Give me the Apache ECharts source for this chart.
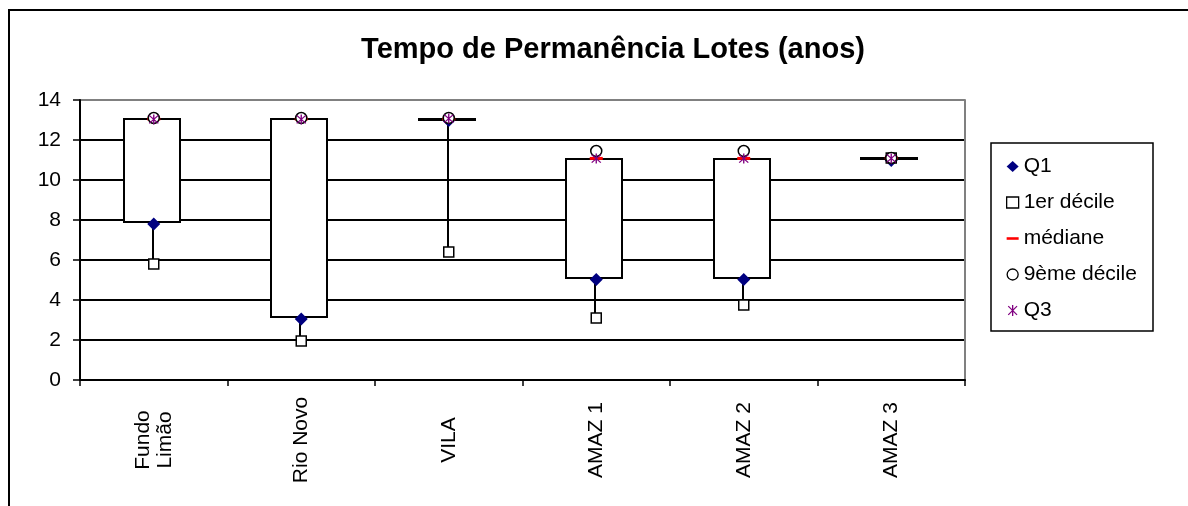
<!DOCTYPE html>
<html>
<head>
<meta charset="utf-8">
<script src="https://cdn.jsdelivr.net/npm/echarts@6/dist/echarts.min.js"></script>
<style>
  html, body { margin: 0; padding: 0; background: #fff; }
  #chart { width: 1188px; height: 506px; }
</style>
</head>
<body>
<div id="chart"></div>
<script>
// valeurs
var categories = ['Fundo\nLimão', 'Rio Novo', 'VILA', 'AMAZ 1', 'AMAZ 2', 'AMAZ 3'];
var q1       = [7.9, 3.15, 13.07, 5.12, 5.12, 11.08];
var decile1  = [5.8, 1.95, 6.4, 3.1, 3.75, 11.1];
var mediane  = [13.05, 13.05, 13.05, 11.08, 11.08, 11.1];
var decile9  = [13.1, 13.1, 13.1, 11.45, 11.45, 11.1];
var q3       = [13.03, 13.03, 13.07, 11.07, 11.07, 11.08];
var yMin = 0, yMax = 14, yStep = 2;

var FONT = 'Liberation Sans, Arial, sans-serif';
var starPath = 'path://M4.4,0 L5.6,0 L5.6,10 L4.4,10 Z M1.4,0.6 L9.4,8.6 L8.6,9.4 L0.6,1.4 Z M8.6,0.6 L9.4,1.4 L1.4,9.4 L0.6,8.6 Z';
var dashPath = 'path://M0,0 L14,0 L14,3 L0,3 Z';

var boxData = categories.map(function (c, i) { return [i, q1[i], q3[i]]; });
var whiskerData = categories.map(function (c, i) { return [i, decile1[i], q1[i]]; });

function renderWhisker(params, api) {
  var a = api.coord([api.value(0), api.value(1)]);
  var b = api.coord([api.value(0), api.value(2)]);
  var x = Math.round(a[0]) - 1;
  return {
    type: 'line',
    shape: { x1: x, y1: a[1], x2: x, y2: b[1] },
    style: { stroke: '#000', lineWidth: 2 }
  };
}

function renderBox(params, api) {
  var lo = api.coord([api.value(0), api.value(1)]);
  var hi = api.coord([api.value(0), api.value(2)]);
  var w = Math.round(api.size([1, 0])[0] * 0.38);
  var y = Math.round(hi[1]), h = Math.round(lo[1]) - y;
  if (h < 1) { h = 1; }
  return {
    type: 'rect',
    shape: { x: Math.round(lo[0] - w / 2 - 2), y: y, width: w, height: h },
    style: { fill: '#fff', stroke: '#000', lineWidth: 2 }
  };
}

var chart = echarts.init(document.getElementById('chart'));
var option = {
  animation: false,
  backgroundColor: '#fff',
  title: {
    text: 'Tempo de Permanência Lotes (anos)',
    left: 608,
    textAlign: 'center',
    top: 30,
    textStyle: { fontFamily: FONT, fontSize: 29, fontWeight: 'bold', color: '#000' }
  },
  graphic: [
    { type: 'line', shape: { x1: 9, y1: 10, x2: 1188, y2: 10 }, style: { stroke: '#000', lineWidth: 2 } },
    { type: 'line', shape: { x1: 9, y1: 9, x2: 9, y2: 506 }, style: { stroke: '#000', lineWidth: 2 } },
    { type: 'rect', shape: { x: 991, y: 143, width: 162, height: 188 }, style: { fill: 'none', stroke: '#000', lineWidth: 1.5 } }
  ],
  legend: {
    orient: 'vertical',
    left: 1001,
    top: 151,
    itemWidth: 12,
    itemHeight: 11,
    itemGap: 15,
    textStyle: { fontFamily: FONT, fontSize: 21, color: '#000' },
    data: [
      { name: 'Q1', icon: 'diamond' },
      { name: '1er décile', icon: 'rect', itemStyle: { color: '#fff', borderColor: '#000', borderWidth: 1.3 } },
      { name: 'médiane', icon: dashPath },
      { name: '9ème décile', icon: 'circle', itemStyle: { color: '#fff', borderColor: '#000', borderWidth: 1.3 } },
      { name: 'Q3', icon: starPath }
    ]
  },
  grid: { left: 80, top: 100, right: 223, bottom: 126 },
  xAxis: {
    type: 'category',
    data: categories,
    axisLine: { lineStyle: { color: '#000', width: 2 } },
    axisTick: { show: true, interval: 0, length: 6, lineStyle: { color: '#000', width: 1.5 } },
    axisLabel: {
      interval: 0, rotate: 90, align: 'center', margin: 60,
      fontFamily: FONT, fontSize: 21, color: '#000', lineHeight: 22
    },
    splitLine: { show: false }
  },
  yAxis: [
    {
      type: 'value',
      min: yMin, max: yMax, interval: yStep,
      axisLine: { show: true, lineStyle: { color: '#000', width: 2 } },
      axisTick: { show: true, length: 7, lineStyle: { color: '#000', width: 1.5 } },
      axisLabel: { fontFamily: FONT, fontSize: 21, color: '#000', margin: 19 },
      splitLine: {
        show: true,
        lineStyle: { color: ['#000', '#000', '#000', '#000', '#000', '#000', '#000', '#808080'], width: 2 }
      }
    },
    {
      type: 'value',
      position: 'right',
      min: yMin, max: yMax, interval: yStep,
      axisLine: { show: true, lineStyle: { color: '#808080', width: 2 } },
      axisTick: { show: false },
      axisLabel: { show: false },
      splitLine: { show: false }
    }
  ],
  series: [
    {
      type: 'custom', name: 'whisker', renderItem: renderWhisker,
      encode: { x: 0, y: [1, 2] }, data: whiskerData, z: 1, silent: true
    },
    {
      type: 'custom', name: 'box', renderItem: renderBox,
      encode: { x: 0, y: [1, 2] }, data: boxData, z: 2, silent: true
    },
    {
      name: 'Q1', type: 'scatter', data: q1, z: 3,
      symbol: 'diamond', symbolSize: 13, symbolOffset: [0, 2],
      itemStyle: { color: '#000080', opacity: 1 }
    },
    {
      name: '1er décile', type: 'scatter', data: decile1, z: 4,
      symbol: 'rect', symbolSize: 10,
      itemStyle: { color: '#fff', borderColor: '#000', borderWidth: 1.5, opacity: 1 }
    },
    {
      name: 'médiane', type: 'scatter', data: mediane, z: 5,
      symbol: 'rect', symbolSize: [13, 3],
      itemStyle: { color: '#ff0000', opacity: 1 }
    },
    {
      name: '9ème décile', type: 'scatter', data: decile9, z: 6,
      symbol: 'circle', symbolSize: 11,
      itemStyle: { color: '#fff', borderColor: '#000', borderWidth: 1.5, opacity: 1 }
    },
    {
      name: 'Q3', type: 'scatter', data: q3, z: 7,
      symbol: starPath, symbolSize: 10,
      itemStyle: { color: '#800080', opacity: 1 }
    }
  ]
};
chart.setOption(option);
</script>
</body>
</html>
